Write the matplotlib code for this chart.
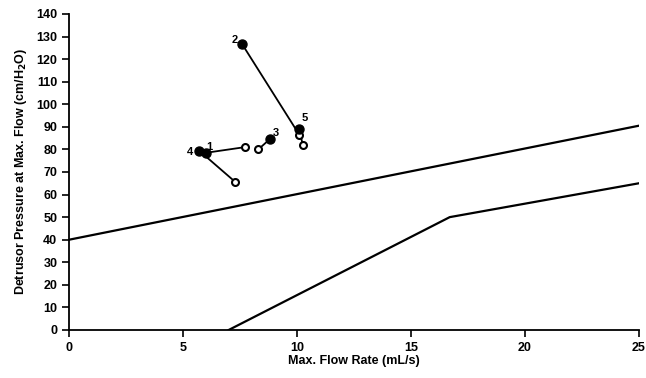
import matplotlib.pyplot as plt

# Patient values (pre = filled, post = open)
patients = ['1', '2', '3', '4', '5']
pre_flow = [6.0, 7.6, 8.8, 5.7, 10.1]
pre_pdet = [78.5, 126.5, 84.5, 79.5, 89.0]
post_flow = [7.7, 10.1, 8.3, 7.3, 10.25]
post_pdet = [81.0, 86.5, 80.0, 65.5, 82.0]

# Nomogram boundary lines
upper_x = [0, 25]
upper_y = [40, 90.5]
lower_x = [7.0, 16.7, 25]
lower_y = [0, 50, 65]

x_ticks = [0, 5, 10, 15, 20, 25]
y_ticks = list(range(0, 141, 10))

# label offsets in points (dx, dy)
label_offsets = {'1': (0, 2), '2': (-8, 1), '3': (2, 2), '4': (-9, -3), '5': (2, 6)}

plt.rcParams['font.family'] = ['Liberation Sans', 'DejaVu Sans']
plt.rcParams['mathtext.default'] = 'bf'

fig = plt.figure(figsize=(6.46, 3.78), dpi=100)
ax = fig.add_axes([0.107, 0.127, 0.882, 0.836])

ax.plot(upper_x, upper_y, color='black', lw=1.6)
ax.plot(lower_x, lower_y, color='black', lw=1.6)

for i, p in enumerate(patients):
    ax.plot([pre_flow[i], post_flow[i]], [pre_pdet[i], post_pdet[i]],
            color='black', lw=1.3, zorder=2)
    ax.plot(post_flow[i], post_pdet[i], 'o', ms=5, mfc='white', mec='black',
            mew=1.5, zorder=3)
    ax.plot(pre_flow[i], pre_pdet[i], 'o', ms=6.5, color='black', zorder=4)
    dx, dy = label_offsets[p]
    ax.annotate(p, (pre_flow[i], pre_pdet[i]), xytext=(dx, dy),
                textcoords='offset points', fontsize=8, fontweight='bold')

ax.set_xlim(0, 25)
ax.set_ylim(0, 140)
ax.set_xticks(x_ticks)
ax.set_yticks(y_ticks)
ax.spines['top'].set_visible(False)
ax.spines['right'].set_visible(False)
for s in ['left', 'bottom']:
    ax.spines[s].set_linewidth(1.3)
ax.tick_params(direction='out', length=5, width=1.2, labelsize=9)
for lbl in ax.get_xticklabels() + ax.get_yticklabels():
    lbl.set_fontweight('bold')

ax.set_xlabel('Max. Flow Rate (mL/s)', fontsize=9, fontweight='bold', labelpad=1)
ax.set_ylabel('Detrusor Pressure at Max. Flow (cm/H$_2$O)', fontsize=9,
              fontweight='bold', labelpad=5)

fig.savefig('out.png', dpi=100)
